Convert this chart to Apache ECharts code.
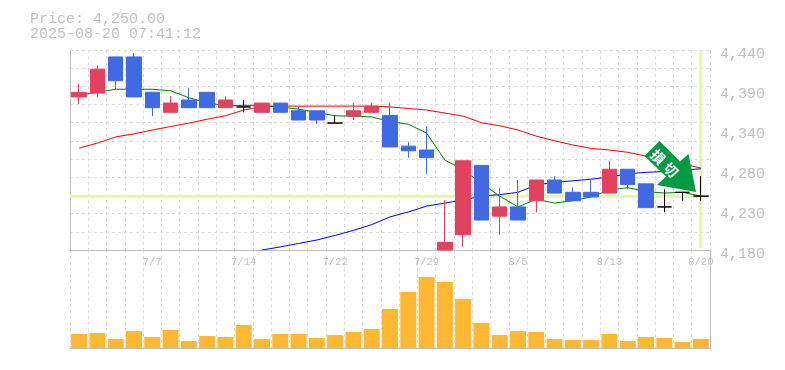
<!DOCTYPE html>
<html>
<head>
<meta charset="utf-8">
<style>html,body{margin:0;padding:0;background:#fff}#c{width:785px;height:370px}</style>
<script src="https://cdn.jsdelivr.net/npm/echarts@6/dist/echarts.min.js"></script>
</head>
<body>
<div id="c"></div>
<script>
const dates = ['7/1','7/2','7/3','7/4','7/7','7/8','7/9','7/10','7/11','7/14','7/15','7/16','7/17','7/18','7/22','7/23','7/24','7/25','7/28','7/29','7/30','7/31','8/1','8/4','8/5','8/6','8/7','8/8','8/12','8/13','8/14','8/15','8/18','8/19','8/20'];
const labelledDates = ['7/7','7/14','7/22','7/29','8/5','8/13','8/20'];
// open, close, low, high
const candles = [
[4379,4385,4370,4396],[4384,4415,4379,4420],[4431,4400,4389,4431],[4431,4379,4379,4436],[4385,4365,4354,4385],
[4359,4371,4359,4380],[4375,4365,4365,4391],[4385,4365,4365,4385],[4365,4375,4365,4380],[4366,4366,4359,4375],
[4359,4371,4359,4371],[4371,4359,4359,4371],[4361,4349,4349,4366],[4361,4349,4344,4361],[4345,4345,4345,4355],
[4354,4361,4349,4371],[4359,4367,4359,4371],[4355,4314,4314,4371],[4315,4309,4300,4320],[4310,4300,4279,4341],
[4180,4190,4180,4245],[4200,4296,4184,4296],[4290,4219,4219,4290],[4224,4236,4200,4261],[4236,4219,4219,4271],
[4244,4271,4229,4271],[4271,4254,4254,4276],[4255,4244,4244,4261],[4255,4249,4249,4271],[4254,4285,4254,4296],
[4285,4265,4259,4285],[4266,4235,4235,4266],[4236,4236,4229,4259],[4255,4255,4244,4255],[4250,4250,4244,4276]
];
const shortAvg = [4381.5,4385,4389,4389,4389,4387,4378,4371.5,4367.5,4368,4368,4366,4363,4359,4354.5,4354,4353,4347,4343.5,4332,4297,4284,4267,4250,4236,4246,4241,4244,4249,4258,4261,4256,4254,4255,4250];
const midAvg = [4312.5,4319,4327,4331,4336,4340.5,4345,4350,4354.5,4362,4366.5,4367,4367,4367,4367,4367,4367,4366,4364,4362,4358,4354,4345.5,4341.5,4336,4328,4322,4316.5,4312,4310,4307,4302,4297,4292,4286.5];
const longAvg = [null,null,null,null,null,null,null,null,null,null,4180,4184,4188.5,4193,4199,4205.5,4213,4223,4229.5,4237,4241,4245,4250,4252,4255,4264.5,4268,4270,4272,4275,4279,4281,4282,4284,4285.5];
const volumes = [14,15,9,17,11,18,7,12,11,23,9,14,14,10,13,16,19,39,56,71,66,49,25,13,17,16,9,8,8,14,7,11,10,6,9];
const lastPrice = 4250;
const priceMin = 4180, priceMax = 4440;
const priceLabels = [4180,4232,4284,4336,4388,4440];
const priceGrid = [4180,4203.64,4227.27,4250.91,4274.55,4298.18,4321.82,4345.45,4369.09,4392.73,4416.36,4440];
const titleLines = ['Price: 4,250.00','2025-08-20 07:41:12'];
const arrowWords = ['損','切'];

const GRID = '#dcdcdc', AXIS = '#bdbdbd', TXT = '#c0c0c0', MONO = '"Liberation Mono", monospace';
const UP = '#E2425F', DOWN = '#4169E1', GUIDE = '#E5F4AE';
const dash = {color: GRID, width: 1, type: [3, 3]};

const chart = echarts.init(document.getElementById('c'), null, {renderer: 'canvas'});
chart.setOption({
  animation: false,
  backgroundColor: '#fff',
  title: {text: titleLines.join('\n'), left: 30, top: 12, padding: 0,
    textStyle: {fontFamily: MONO, fontSize: 15, fontWeight: 'normal', color: TXT, lineHeight: 15}},
  grid: [
    {left: 70, top: 50, width: 640, height: 200},
    {left: 70, top: 250, width: 640, height: 100}
  ],
  xAxis: [
    {type: 'category', gridIndex: 0, data: dates, boundaryGap: true,
     axisLine: {show: true, lineStyle: {color: AXIS, width: 1}}, axisTick: {show: false},
     axisLabel: {fontFamily: MONO, fontSize: 10.5, color: TXT, margin: 7, hideOverlap: false,
       interval: (i, v) => labelledDates.includes(v)},
     splitLine: {show: true, interval: 0, lineStyle: dash}},
    {type: 'category', gridIndex: 1, data: dates, boundaryGap: true,
     axisLine: {show: true, lineStyle: {color: AXIS, width: 1}}, axisTick: {show: false},
     axisLabel: {show: false},
     splitLine: {show: true, interval: 0, lineStyle: dash}},
    {type: 'value', gridIndex: 0, min: 0, max: dates.length, show: false, splitLine: {show: false}}
  ],
  yAxis: [
    {type: 'value', gridIndex: 0, position: 'right', min: priceMin, max: priceMax, scale: true,
     axisLine: {show: true, lineStyle: {color: AXIS, width: 1}},
     axisTick: {show: false, customValues: priceGrid},
     axisLabel: {customValues: priceLabels, fontFamily: MONO, fontSize: 15, color: TXT, margin: 10,
       showMinLabel: true, showMaxLabel: true, verticalAlign: 'top', lineHeight: 15, padding: [-3, 0, 0, 0],
       formatter: v => (Math.round(v / 10) * 10).toLocaleString('en-US')},
     splitLine: {show: true, lineStyle: dash}},
    {type: 'value', gridIndex: 1, position: 'right', min: -2, max: 98,
     axisLine: {show: true, lineStyle: {color: AXIS, width: 1}}, axisTick: {show: false},
     axisLabel: {show: false}, splitLine: {show: false}}
  ],
  series: [
    {name: 'priceH', type: 'line', xAxisIndex: 2, yAxisIndex: 0, z: 1, symbol: 'none', silent: true,
     lineStyle: {color: GUIDE, width: 3}, data: [[0, lastPrice], [dates.length - 0.5, lastPrice]]},
    {name: 'priceV', type: 'line', xAxisIndex: 2, yAxisIndex: 0, z: 1, symbol: 'none', silent: true,
     lineStyle: {color: GUIDE, width: 3}, data: [[dates.length - 0.5, priceMin + 3], [dates.length - 0.5, priceMax]]},
    {name: 'mid', type: 'line', xAxisIndex: 0, yAxisIndex: 0, z: 2, symbol: 'none',
     lineStyle: {color: '#ff0000', width: 1}, data: midAvg},
    {name: 'long', type: 'line', xAxisIndex: 0, yAxisIndex: 0, z: 2, symbol: 'none', clip: true,
     lineStyle: {color: '#0000ff', width: 1}, data: longAvg},
    {name: 'short', type: 'line', xAxisIndex: 0, yAxisIndex: 0, z: 2, symbol: 'none',
     lineStyle: {color: '#008000', width: 1}, data: shortAvg},
    {name: 'price', type: 'candlestick', xAxisIndex: 0, yAxisIndex: 0, z: 3, barWidth: 15, clip: true,
     itemStyle: {color: UP, color0: DOWN, borderColor: UP, borderColor0: DOWN, borderColorDoji: '#000', borderWidth: 1},
     data: candles},
    {name: 'volume', type: 'bar', xAxisIndex: 1, yAxisIndex: 1, z: 2, barWidth: 16,
     itemStyle: {color: '#FFB833'}, data: volumes}
  ],
  graphic: [
    {type: 'polygon', z: 50,
     shape: {points: [[659.5,141],[680,161.5],[688.5,154],[696,192],[657,185],[666,176.5],[644.5,156]]},
     style: {fill: '#009944'}},
    {type: 'text', z: 51, x: 658, y: 157, rotation: -Math.PI / 4,
     style: {text: arrowWords[0], fill: '#fff', font: 'bold 14px "Noto Sans CJK JP"', align: 'center', verticalAlign: 'middle'}},
    {type: 'text', z: 51, x: 671, y: 170, rotation: -Math.PI / 4,
     style: {text: arrowWords[1], fill: '#fff', font: 'bold 14px "Noto Sans CJK JP"', align: 'center', verticalAlign: 'middle'}}
  ]
});
</script>
</body>
</html>
